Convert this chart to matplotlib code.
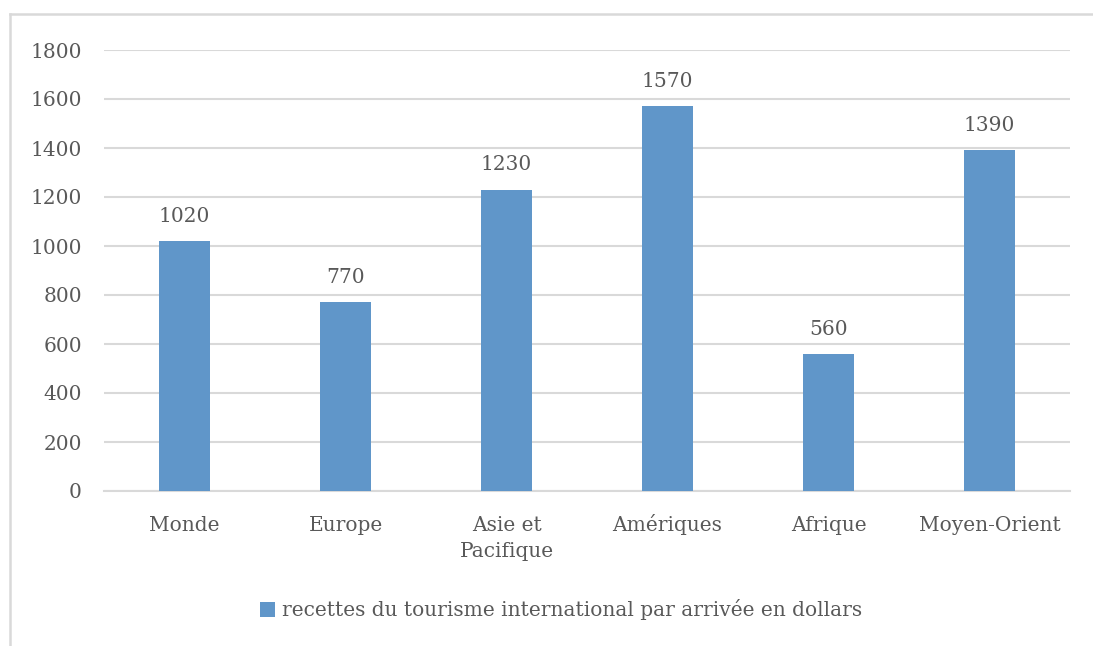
import matplotlib.pyplot as plt
from matplotlib.lines import Line2D

categories = ["Monde", "Europe", "Asie et\nPacifique", "Amériques", "Afrique", "Moyen-Orient"]
values = [1020, 770, 1230, 1570, 560, 1390]
series_name = "recettes du tourisme international par arrivée en dollars"
yticks = [0, 200, 400, 600, 800, 1000, 1200, 1400, 1600, 1800]

bar_color = "#6096C9"
text_color = "#595959"
grid_color = "#D9D9D9"

plt.rcParams["font.family"] = ["DejaVu Serif"]

fig = plt.figure(figsize=(10.93, 6.46), dpi=100)
ax = fig.add_axes([104 / 1093, 1 - 491 / 646, (1070 - 104) / 1093, (491 - 50) / 646])

x = list(range(len(categories)))
bars = ax.bar(x, values, width=0.32, color=bar_color, label=series_name, zorder=3)

for xi, v in zip(x, values):
    ax.annotate(str(v), (xi, v), xytext=(0, 11), textcoords="offset points",
                ha="center", va="bottom", fontsize=14.5, color=text_color)

# category labels, baseline-aligned like the original
ax.set_xticks(x)
ax.set_xticklabels([])
for xi, cat in zip(x, categories):
    for k, line in enumerate(cat.split("\n")):
        ax.annotate(line, (xi, 0), xytext=(0, -28.8 - 18.7 * k), textcoords="offset points",
                    ha="center", va="baseline", fontsize=14.5, color=text_color,
                    annotation_clip=False)

ax.set_xlim(-0.5, len(categories) - 0.5)
ax.set_ylim(0, 1800)
ax.set_yticks(yticks)
ax.tick_params(axis="both", length=0, labelsize=14.5, colors=text_color)
ax.tick_params(axis="y", pad=16)
ax.grid(axis="y", color=grid_color, linewidth=1.5, zorder=0)
for s in ["top", "right", "left"]:
    ax.spines[s].set_visible(False)
ax.spines["bottom"].set_color(grid_color)
ax.spines["bottom"].set_linewidth(1.5)

fig.legend(handles=[bars], labels=[series_name], loc="center",
           bbox_to_anchor=(561 / 1093, 1 - 610 / 646), frameon=False,
           fontsize=14.5, labelcolor=text_color, handlelength=0.75, handleheight=0.75,
           handletextpad=0.3)

# chart frame (top and left edges visible only)
x0, y0 = 10 / 1093, 1 - 14 / 646
fig.add_artist(Line2D([x0, 1.0], [y0, y0], transform=fig.transFigure,
                      color=grid_color, linewidth=1.8))
fig.add_artist(Line2D([x0, x0], [0.0, y0], transform=fig.transFigure,
                      color=grid_color, linewidth=1.8))

fig.savefig("out.png", dpi=100)
